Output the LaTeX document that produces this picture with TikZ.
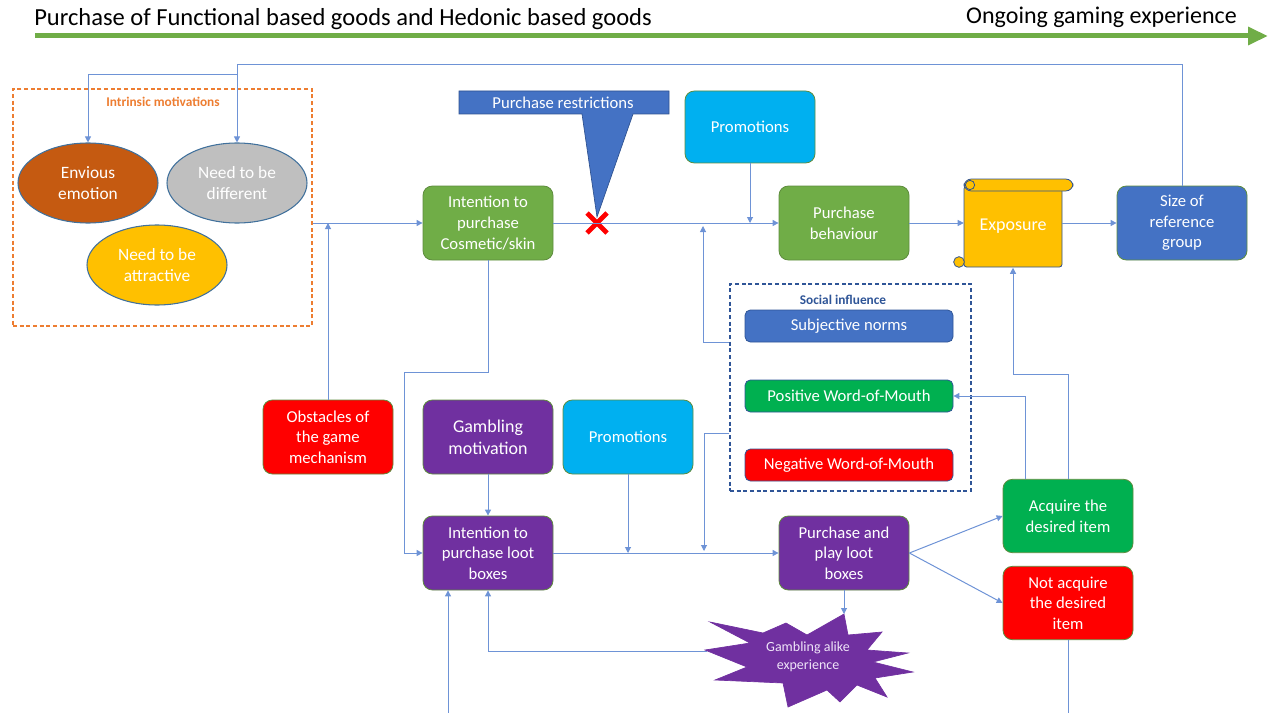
\documentclass[tikz,border=0pt]{standalone}
\usepackage{fontspec}
\setmainfont{Carlito}
\usetikzlibrary{arrows.meta,shapes.geometric}
\definecolor{ln}{HTML}{6E93D6}
\definecolor{gbox}{HTML}{70AD47}
\definecolor{gbright}{HTML}{00B050}
\definecolor{bbox}{HTML}{4472C4}
\definecolor{cbox}{HTML}{00B0F0}
\definecolor{pbox}{HTML}{7030A0}
\definecolor{rbox}{HTML}{FF0000}
\definecolor{edge}{HTML}{5E8C3E}
\definecolor{dblue}{HTML}{2F5597}
\definecolor{orng}{HTML}{ED7D31}
\definecolor{brn}{HTML}{C55A11}
\definecolor{gry}{HTML}{BFBFBF}
\definecolor{yel}{HTML}{FFC000}
\definecolor{ebl}{HTML}{41719C}
\definecolor{scrl}{HTML}{2F528F}
\definecolor{lav}{HTML}{EFE4F8}
\begin{document}
\begin{tikzpicture}[x=0.75pt,y=-0.75pt,
  box/.style={draw=edge, line width=0.6pt, rounded corners=7pt, minimum width=97.5pt, minimum height=55.5pt, text=white, align=center, font=\fontsize{12.5}{15.5}\selectfont, inner sep=1pt},
  ell/.style={ellipse, draw=ebl, line width=0.8pt, minimum width=105pt, minimum height=60pt, text=white, align=center, font=\fontsize{13}{16}\selectfont, inner sep=0pt},
  sbox/.style={draw=dblue, line width=0.6pt, rounded corners=4pt, minimum width=156pt, minimum height=24pt, text=white, font=\fontsize{12.5}{15}\selectfont},
  conn/.style={draw=ln, line width=0.75pt, -{Triangle[width=4.5pt,length=4.5pt]}},
  wire/.style={draw=ln, line width=0.75pt},
  grp/.style={line width=1.1pt, dash pattern=on 3pt off 2pt},
  lbl/.style={font=\fontsize{10}{12}\selectfont\bfseries},
  scroll/.style={fill=yel, draw=scrl, line width=0.6pt},
]
\useasboundingbox (0,0) rectangle (1273,713);

% header
\node[anchor=west, font=\fontsize{18.4}{20}\selectfont, inner sep=0pt] (t1) at (34,19) {Purchase of Functional based goods and Hedonic based goods};
\node[anchor=east, font=\fontsize{18}{20}\selectfont, inner sep=0pt] (t2) at (1237,17) {Ongoing gaming experience};
\coordinate (aL) at (35,36);
\coordinate (aR) at (1268,36);
\draw[draw=gbox, line width=3.75pt, -{Triangle[width=13pt,length=15pt]}] (aL) -- (aR);

% intrinsic motivations
\node[draw=orng, grp, minimum width=224.25pt, minimum height=177.75pt] (intr) at (162.5,207.5) {};
\node[lbl, text=orng] (intrl) at (163,102) {Intrinsic motivations};
\node[ell, fill=brn] (env) at (88,183) {Envious\\emotion};
\node[ell, fill=gry] (diff) at (237,183) {Need to be\\different};
\node[ell, fill=yel] (attr) at (157,265) {Need to be\\attractive};

% upper row
\node[box, fill=gbox] (cos) at (488,223) {Intention to\\purchase\\Cosmetic/skin};
\node[box, fill=gbox] (pb) at (844,223) {Purchase\\behaviour};
\node[box, fill=cbox, minimum height=54pt] (promo1) at (750,127) {Promotions};
\node[box, fill=bbox] (size) at (1182,223) {Size of\\reference\\group};

% purchase restrictions callout
\draw[fill=bbox, draw=scrl, line width=0.5pt] (459,91) -- (669,91) -- (669,114) -- (633,114) -- (597,217) -- (582,114) -- (459,114) -- cycle;
\node[text=white, font=\fontsize{12.5}{15}\selectfont] (pr) at (563,103) {Purchase restrictions};

% exposure scroll
\draw[scroll, rounded corners=2pt] (964,186) rectangle (1062,267);
\draw[scroll, rounded corners=5.5pt] (964,179) rectangle (1073,191);
\draw[scroll] (970,185) circle[radius=3.5pt];
\draw[scroll] (959,262) circle[radius=4pt];
\node[text=white, minimum width=73.5pt, minimum height=61.5pt, font=\fontsize{13.5}{16}\selectfont] (exp) at (1013,226.5) {Exposure};

% social influence
\node[draw=dblue, grp, minimum width=180.75pt, minimum height=155.25pt] (soc) at (850.5,387.5) {};
\node[lbl, text=dblue] (socl) at (843,300) {Social influence};
\node[sbox, fill=bbox] (subj) at (849,326) {Subjective norms};
\node[sbox, fill=gbright] (pos) at (849,396) {Positive Word-of-Mouth};
\node[sbox, fill=rbox] (neg) at (849,465) {Negative Word-of-Mouth};

% lower part
\node[box, fill=rbox] (obst) at (328,437) {Obstacles of\\the game\\mechanism};
\node[box, fill=pbox, font=\fontsize{13.5}{16.5}\selectfont] (gm) at (488,437) {Gambling\\motivation};
\node[box, fill=cbox] (promo2) at (628,437) {Promotions};
\node[box, fill=pbox] (loot) at (488,553) {Intention to\\purchase loot\\boxes};
\node[box, fill=pbox] (ppl) at (844,553) {Purchase and\\play loot\\boxes};
\node[box, fill=gbright, minimum height=55pt] (acq) at (1068,516) {Acquire the\\desired item};
\node[box, fill=rbox, minimum height=55pt] (nacq) at (1068,603) {Not acquire\\the desired\\item};

% starburst
\draw[fill=pbox, draw=pbox, line width=0.5pt] (710,622) -- (763,633) -- (786,623) -- (807,635) -- (844,614) -- (848,635) -- (882,632) -- (867,650) -- (908,653) -- (873,662) -- (913,672) -- (875,678) -- (887,697) -- (857,685) -- (840,702) -- (827,690) -- (788,707) -- (783,683) -- (715,680) -- (747,667) -- (705,650) -- (750,643) -- cycle;
\node[text=lav, align=center, font=\fontsize{10.5}{13.5}\selectfont] (gae) at (808,657) {Gambling alike\\experience};
\coordinate (bTop) at (844,614);
\coordinate (bLeft) at (707,651);

% red cross
\draw[draw=rbox, line width=3.5pt] (587,213) -- (607,233) (587,233) -- (607,213);

% helper coordinates
\coordinate (yTop) at (0,65);
\coordinate (yTop2) at (0,75);
\coordinate (j1) at (703,226);
\coordinate (y433) at (0,433);
\coordinate (j2) at (704,551);
\coordinate (c404) at (404,372);
\coordinate (c1013) at (1013,374);
\coordinate (x1025) at (1025,0);
\coordinate (bot1) at (448,713);

% connectors
\draw[conn] (size.north) |- (diff.north |- yTop) -- (diff.north);
\draw[conn] (diff.north |- yTop2) -| (env.north);
\draw[conn] (intr.east |- cos.west) -- (cos.west);
\draw[conn] (obst.north) -- (obst.north |- cos.west);
\draw[conn] (cos.east) -- (pb.west);
\draw[conn] (promo1.south) -- (promo1.south |- pb.west);
\draw[conn] (soc.west |- subj.south) -| (j1);
\draw[conn] (pb.east) -- (exp.west |- pb.east);
\draw[conn] (exp.east |- size.west) -- (size.west);
\draw[conn] (cos.south) |- (c404) |- (loot.west);
\draw[conn] (gm.south) -- (loot.north);
\draw[conn] (loot.east) -- (ppl.west);
\draw[conn] (promo2.south) -- (promo2.south |- loot.east);
\draw[conn] (soc.west |- y433) -| (j2);
\draw[conn] (ppl.east) -- (acq.west);
\draw[conn] (ppl.east) -- (nacq.west);
\draw[conn] (ppl.south) -- (bTop);
\draw[conn] (bLeft) -| (loot.south);
\draw[conn] (bot1) -- (bot1 |- loot.south);
\draw[wire] (nacq.south) -- (nacq.south |- bot1);
\draw[conn] (acq.north) |- (c1013) -- (exp.south);
\draw[conn] (acq.north -| x1025) |- (pos.east);
\end{tikzpicture}
\end{document}
